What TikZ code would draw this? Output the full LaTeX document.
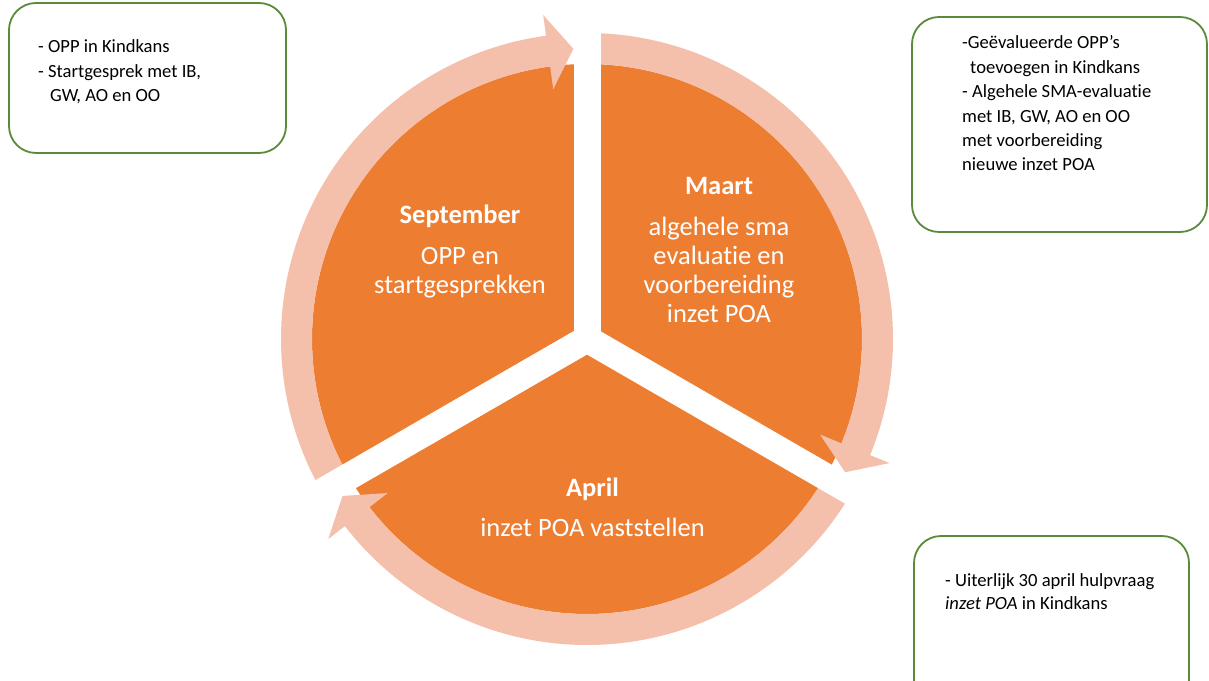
\documentclass[tikz,border=0pt]{standalone}
\usepackage{fontspec}
\setmainfont{Carlito}[Ligatures=NoCommon]
\definecolor{segorange}{HTML}{ED7D31}
\definecolor{arrowpink}{HTML}{F4C0AC}
\definecolor{boxgreen}{HTML}{5A8A3A}

\begin{document}
\begin{tikzpicture}[x=1pt, y=1pt,
  notebox/.style={draw=boxgreen, line width=1.8pt, fill=white, rounded corners=27pt},
  notetext/.style={anchor=base west, align=left, inner sep=0pt,
                   font=\fontsize{18.6}{24.4}\selectfont},
  monthhead/.style={anchor=base, inner sep=0pt, text=white,
                    font=\fontsize{26.5}{29}\selectfont\bfseries},
  monthtext/.style={anchor=base, align=center, inner sep=0pt, text=white,
                    font=\fontsize{26.5}{29}\selectfont},
  gapbar/.style={white, line width=27pt}]
 \clip (0,0) rectangle (1209,680);
 \fill[white] (0,0) rectangle (1209,680);
 % cycle
 \begin{scope}[shift={(587,341)}]
   \coordinate (c) at (0,0);
   \fill[segorange] (c) circle (275);
   \foreach \tail/\head in {210/97.7, 90/-22.3, -30/-142.3}
     \fill[arrowpink] (\tail:306) arc[start angle=\tail, end angle=\head, radius=306]
        -- (\head:327) -- (\head-5:290.5) -- (\head:252) -- (\head:275)
        arc[start angle=\head, end angle=\tail, radius=275] -- cycle;
   \foreach \dir in {90, 210, 330}
     \draw[gapbar] (c) -- (\dir:340);
 \end{scope}
 % texts sit on the baseline of their last line
 \node[monthhead] (sept) at (460,456) {September};
 \node[monthtext] (septtxt) at (460,386) {OPP en\\startgesprekken};
 \node[monthhead] (maart) at (719,485) {Maart};
 \node[monthtext] (maarttxt) at (719,357)
      {algehele sma\\evaluatie en\\voorbereiding\\inzet POA};
 \node[monthhead] (april) at (592.5,183) {April};
 \node[monthtext] (apriltxt) at (592.5,143) {inzet POA vaststellen};
 % notes
 \draw[notebox] (9,677) rectangle (286,527);
 \node[notetext] (septnote) at (38,578.5)
      {- OPP in Kindkans\\- Startgesprek met IB,\\\hspace*{12pt}GW, AO en OO};
 \draw[notebox] (912,663) rectangle (1207,448);
 \node[notetext] (maartnote) at (962,509)
      {-Geëvalueerde OPP’s\\\hspace*{8pt}toevoegen in Kindkans\\- Algehele SMA-evaluatie\\met IB, GW, AO en OO\\met voorbereiding\\nieuwe inzet POA};
 \draw[notebox] (914,144) rectangle (1189,-40);
 \node[notetext, font=\fontsize{18.6}{22.3}\selectfont] (aprilnote) at (945,71)
      {- Uiterlijk 30 april hulpvraag\\\textit{inzet POA} in Kindkans};
\end{tikzpicture}
\end{document}
